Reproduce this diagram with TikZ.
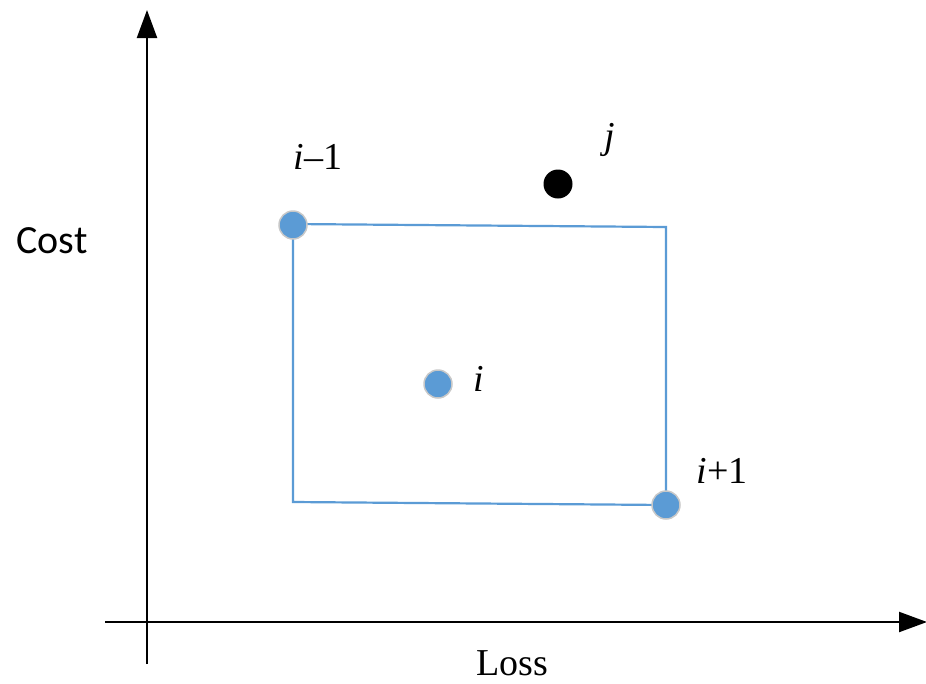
\documentclass[tikz,border=0pt]{standalone}
\usepackage{fontspec}
\setmainfont{Liberation Serif}
\newfontfamily\calib{Carlito}
\usetikzlibrary{arrows.meta}
\definecolor{boxblue}{HTML}{5B9BD5}
\definecolor{rimgray}{HTML}{C8C8C8}
\begin{document}
\begin{tikzpicture}[x=1pt,y=-1pt,
  axis/.style={line width=2.2pt,-{Triangle[length=28pt,width=20pt]}},
  bluedot/.style={circle,fill=boxblue,draw=rimgray,line width=1.5pt,minimum size=28pt,inner sep=0pt},
  blackdot/.style={circle,fill=black,minimum size=29pt,inner sep=0pt},
  lbl/.style={font=\fontsize{38}{42}\selectfont,inner sep=0pt}]
\useasboundingbox (0,0) rectangle (926,683);
% axes
\coordinate (yb) at (147,664);
\coordinate (yt) at (147,10);
\coordinate (xl) at (105,622);
\coordinate (xr) at (927,622);
\draw[axis] (yb) -- (yt);
\draw[axis] (xl) -- (xr);
% box corners
\coordinate (c1) at (293,224);
\coordinate (c2) at (666,227);
\coordinate (c3) at (666,505);
\coordinate (c4) at (293,502);
\draw[boxblue,line width=2.2pt] (c1) -- (c2) -- (c3) -- (c4) -- cycle;
% dots
\node[bluedot] (pm) at (293,225) {};
\node[bluedot] (pi) at (438,384) {};
\node[bluedot] (pp) at (666,505) {};
\node[blackdot] (pj) at (558,184) {};
% labels
\node[lbl] (lm) at (318,157) {\textit{i}–1};
\node[lbl] (lj) at (610,140) {\textit{j}};
\node[lbl] (li) at (479,379) {\textit{i}};
\node[lbl] (lp) at (722,471) {\textit{i}+1};
\node[font=\calib\fontsize{40}{44}\selectfont,inner sep=0pt] (cost) at (52,241) {Cost};
\node[lbl] (loss) at (512,663) {Loss};
\end{tikzpicture}
\end{document}
